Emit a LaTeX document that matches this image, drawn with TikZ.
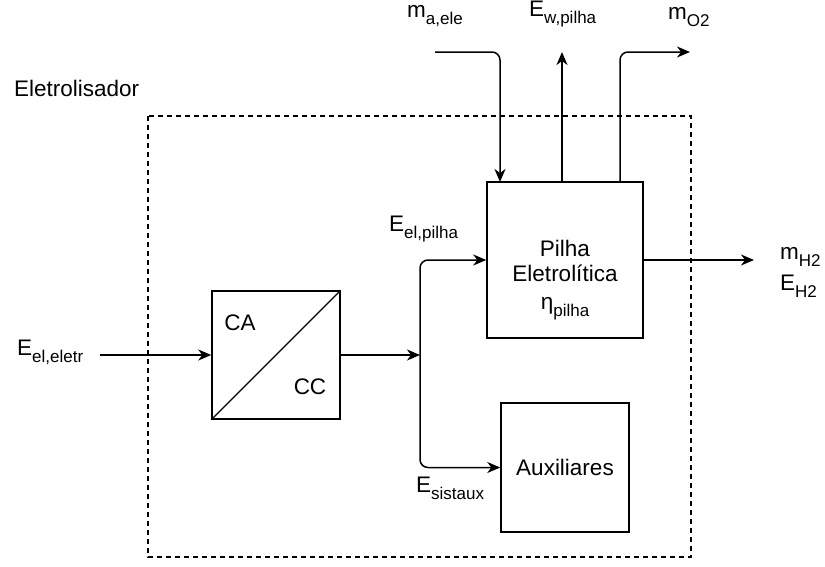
\documentclass[tikz,border=0pt]{standalone}
\usepackage{fontspec}
\setmainfont{Liberation Sans}
\usetikzlibrary{arrows.meta,calc}
\newcommand{\sbx}[1]{\raisebox{-0.3em}{\fontsize{17}{17}\selectfont #1}}
\begin{document}
\begin{tikzpicture}[x=1pt,y=-1pt,
  every node/.style={font=\fontsize{22.5}{26}\selectfont, inner sep=0pt},
  blk/.style={draw, line width=1.5pt, rectangle},
  flow/.style={line width=1.5pt, -{Stealth[length=13pt,width=11pt,inset=4pt]}, rounded corners=8pt},
  bound/.style={line width=1.2pt, dash pattern=on 5pt off 4pt}]
\useasboundingbox (0,0) rectangle (825,566);
% system boundary
\draw[bound] (148,116) rectangle (691,557);
\node[anchor=west] (title) at (14,88) {Eletrolisador};
% blocks
\node[blk, minimum width=128, minimum height=128] (conv) at (276,355) {};
\draw[line width=1.2pt] (conv.south west) -- (conv.north east);
\node (ca) at (240,323) {CA};
\node (cc) at (310,387) {CC};
\node[blk, minimum width=156, minimum height=156] (pilha) at (565,260) {};
\node[align=center] (pt) at (565,261) {Pilha\\[-1pt]Eletrolítica};
\node (eta) at (565,309) {η\sbx{pilha}};
\node[blk, minimum width=128, minimum height=129] (aux) at (565,467.5) {};
\node (auxt) at (565,467) {Auxiliares};
% coordinates
\coordinate (in) at (100,355);
\coordinate (j) at (420,355);
\coordinate (ma) at (435,52);
\coordinate (pin) at (500,182);
\coordinate (ewb) at (562,182);
\coordinate (ewt) at (562,52);
\coordinate (ob) at (620,182);
\coordinate (ot) at (690,52);
\coordinate (out) at (754,260);
% connectors
\draw[flow] (in) -- (conv.west);
\draw[flow] (conv.east) -- (j);
\draw[flow] (j) |- (pilha.west);
\draw[flow] (j) |- (aux.west);
\draw[flow] (pilha.east) -- (out);
\draw[flow] (ma) -| (pin);
\draw[flow] (ewb) -- (ewt);
\draw[flow] (ob) |- (ot);
% labels
\node[anchor=west] (lin) at (17,352) {E\sbx{el,eletr}};
\node[anchor=west] (lep) at (389,229) {E\sbx{el,pilha}};
\node[anchor=west] (les) at (416,488) {E\sbx{sistaux}};
\node[anchor=west] (lma) at (407,16) {m\sbx{a,ele}};
\node[anchor=west] (lew) at (529,14) {E\sbx{w,pilha}};
\node[anchor=west] (lo2) at (668,17) {m\sbx{O2}};
\node[anchor=west] (lmh) at (780,257) {m\sbx{H2}};
\node[anchor=west] (leh) at (780,286) {E\sbx{H2}};
\end{tikzpicture}
\end{document}
